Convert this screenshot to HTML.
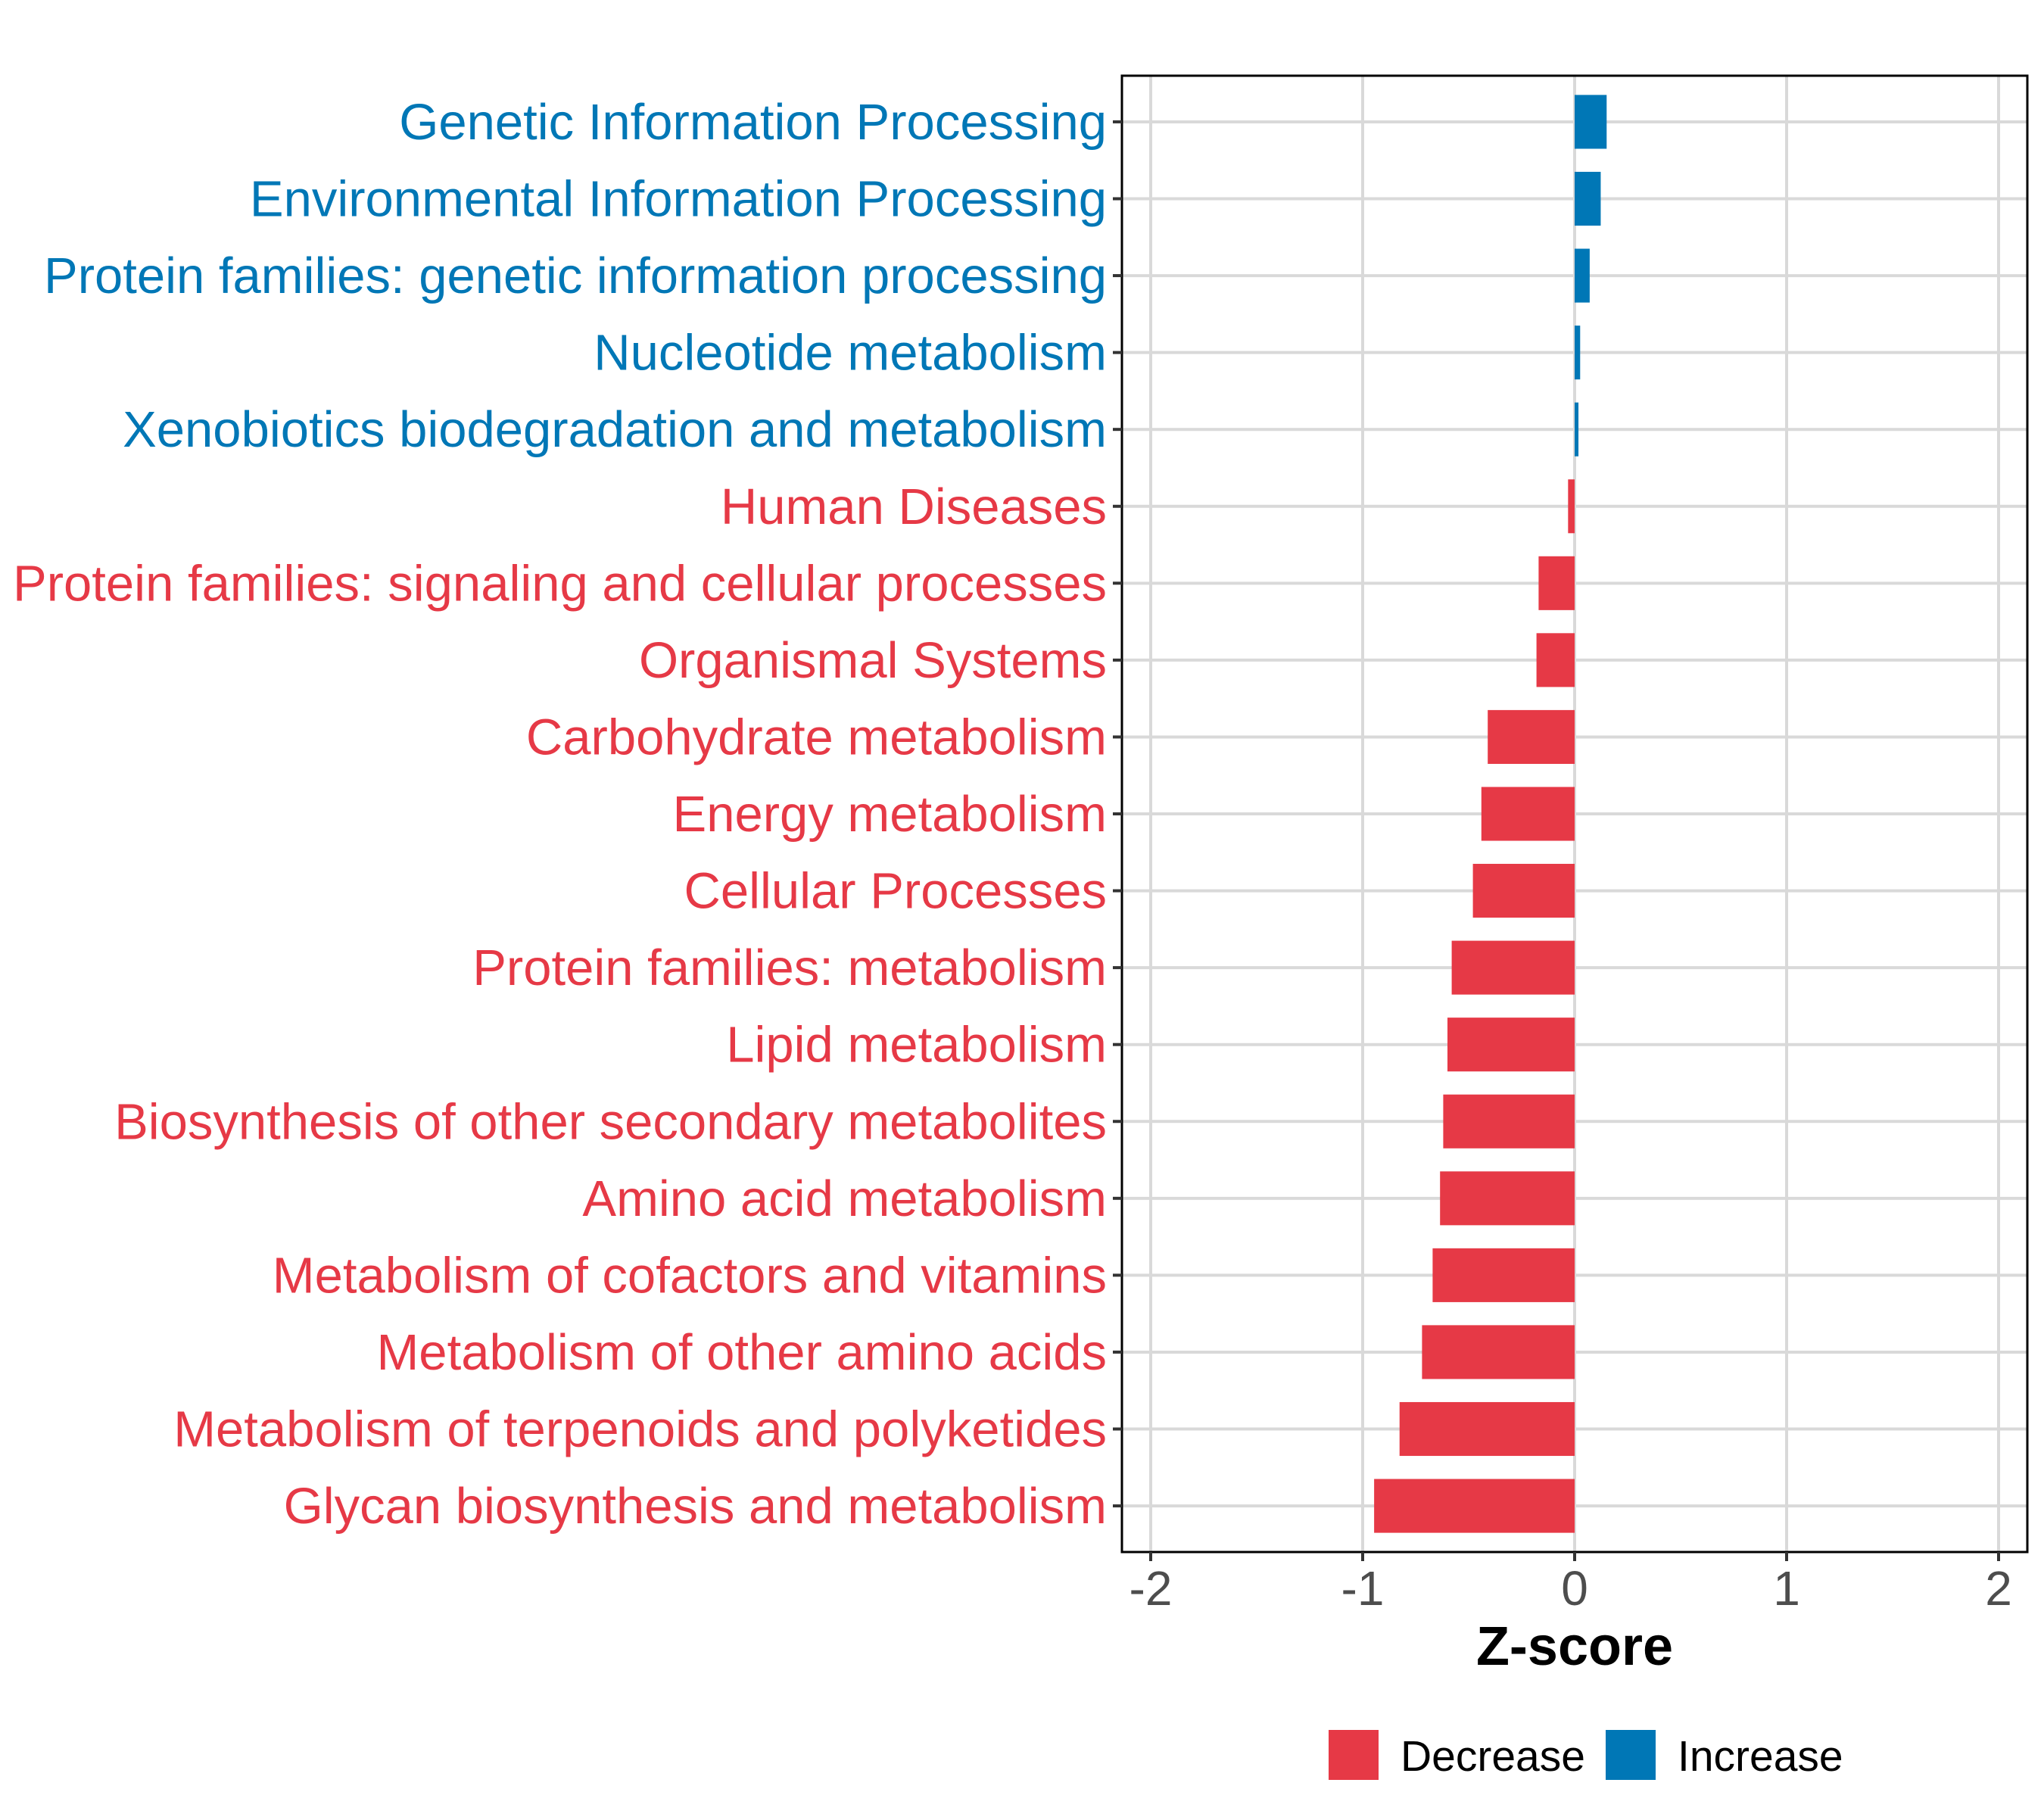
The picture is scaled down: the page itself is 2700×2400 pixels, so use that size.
<!DOCTYPE html>
<html><head><meta charset="utf-8"><style>
html,body{margin:0;padding:0;background:#fff;}
svg{display:block;font-family:"Liberation Sans",Arial,sans-serif;}
</style></head><body>
<svg id="chart" width="2700" height="2400" viewBox="0 0 2700 2400" xmlns="http://www.w3.org/2000/svg">
<g id="grid"></g>
<g id="bars"></g>
<rect x="1482" y="100" width="1196" height="1950" fill="none" stroke="#000" stroke-width="3"/>
<g id="yaxis"></g>
<g id="xaxis"></g>
<text x="2080" y="2199" text-anchor="middle" font-size="72" font-weight="bold" fill="#000">Z-score</text>
<g>
<rect x="1755" y="2285" width="66" height="66" fill="#E63946"/>
<text x="1850" y="2339" font-size="57" fill="#000">Decrease</text>
<rect x="2121" y="2285" width="66" height="66" fill="#0077B6"/>
<text x="2216" y="2339" font-size="57" fill="#000">Increase</text>
</g>
</svg>
<script>
const categories = ["Genetic Information Processing","Environmental Information Processing","Protein families: genetic information processing","Nucleotide metabolism","Xenobiotics biodegradation and metabolism","Human Diseases","Protein families: signaling and cellular processes","Organismal Systems","Carbohydrate metabolism","Energy metabolism","Cellular Processes","Protein families: metabolism","Lipid metabolism","Biosynthesis of other secondary metabolites","Amino acid metabolism","Metabolism of cofactors and vitamins","Metabolism of other amino acids","Metabolism of terpenoids and polyketides","Glycan biosynthesis and metabolism"];
const zscores = [0.151,0.123,0.071,0.026,0.018,-0.031,-0.17,-0.18,-0.41,-0.44,-0.48,-0.58,-0.60,-0.62,-0.635,-0.67,-0.72,-0.826,-0.946];
const xTicks = [-2,-1,0,1,2];
const xTickLabels = ["-2","-1","0","1","2"];
const NS="http://www.w3.org/2000/svg";
const pL=1482,pR=2678,pT=100,pB=2050;
function xs(v){return 2080+v*280;}
const step=(pB-pT)/(categories.length-1+1.2);
function ys(i){return pT+0.6*step+i*step;}
function mk(tag,attrs,parent){const e=document.createElementNS(NS,tag);for(const k in attrs)e.setAttribute(k,attrs[k]);parent.appendChild(e);return e;}
const grid=document.getElementById('grid'),bars=document.getElementById('bars'),ya=document.getElementById('yaxis'),xa=document.getElementById('xaxis');
xTicks.forEach((t,i)=>{
  const g=mk('line',{x1:xs(t),x2:xs(t),y1:pT,y2:pB,stroke:'#d9d9d9','stroke-width':4},grid);
  
  
  const tk=mk('line',{x1:xs(t),x2:xs(t),y1:pB,y2:pB+12,stroke:'#333','stroke-width':4},xa);
  
  
  const tl=mk('text',{x:xs(t),y:2120,'text-anchor':'middle','font-size':64,fill:'#4d4d4d'},xa);
  tl.textContent=xTickLabels[i];
  
  
});
categories.forEach((c,i)=>{
  const y=ys(i);
  const g=mk('line',{x1:pL,x2:pR,y1:y,y2:y,stroke:'#d9d9d9','stroke-width':4},grid);
  
  
  const v=zscores[i];
  const col=v>=0?'#0077B6':'#E63946';
  const x0=Math.min(xs(0),xs(v)),w=Math.abs(xs(v)-xs(0));
  const b=mk('rect',{x:x0,y:y-0.35*step,width:w,height:0.7*step,fill:col},bars);
  
  
  const tk=mk('line',{x1:pL-12,x2:pL,y1:y,y2:y,stroke:'#333','stroke-width':4},ya);
  
  
  const tl=mk('text',{x:pL-20,y:y+23,'text-anchor':'end','font-size':67,fill:col},ya);
  tl.textContent=c;
  
  
});
</script>
</body></html>
